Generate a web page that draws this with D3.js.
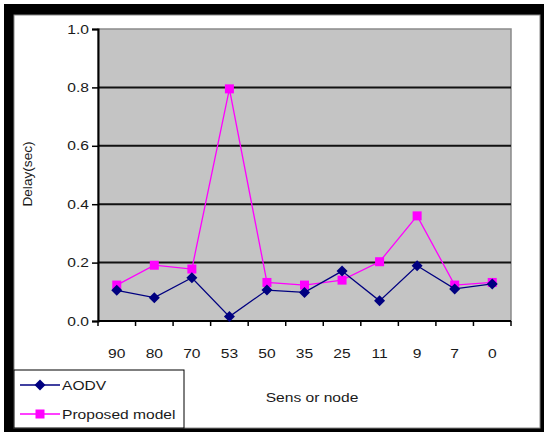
<!DOCTYPE html>
<html>
<head>
<meta charset="utf-8">
<script src="https://cdn.jsdelivr.net/npm/d3@7/dist/d3.min.js"></script>
<style>
  html, body { margin: 0; padding: 0; background: #fff; }
  svg { display: block; }
  text { font-family: "Liberation Sans", Arial, sans-serif; }
</style>
</head>
<body>
<svg id="chart" width="544" height="432"></svg>
<script>
// Sensor nodes along the route and measured delay per node
const nodes = ["90", "80", "70", "53", "50", "35", "25", "11", "9", "7", "0"];
const aodvDelay = [0.105, 0.08, 0.148, 0.015, 0.106, 0.098, 0.171, 0.069, 0.189, 0.11, 0.127];
const proposedDelay = [0.123, 0.191, 0.178, 0.795, 0.132, 0.123, 0.14, 0.203, 0.36, 0.123, 0.132];
const yTicks = [0, 0.2, 0.4, 0.6, 0.8, 1.0];
const seriesNames = ["AODV", "Proposed model"];

const svg = d3.select("#chart");
const SX = 1.2;          // horizontal stretch of the labels
const FS = 13;
const textColor = "#1a1a1a";

// Places a horizontally stretched label at (x, y)
function label(parent, x, y, str, anchor) {
  return parent.append("text")
    .attr("transform", `translate(${x},${y}) scale(${SX},1)`)
    .attr("text-anchor", anchor || "start")
    .attr("font-size", FS).attr("fill", textColor).text(str);
}

// Frame: black border with white panel
svg.append("rect").attr("x", 4).attr("y", 4).attr("width", 540).attr("height", 428).attr("fill", "#000");
svg.append("rect").attr("x", 14).attr("y", 15).attr("width", 526).attr("height", 413)
  .attr("fill", "#fff").attr("stroke", "#888").attr("stroke-width", 1);

const plot = { left: 98, right: 511, top: 29, bottom: 321 };

const x = d3.scaleBand().domain(nodes).range([plot.left, plot.right]).padding(0);
const y = d3.scaleLinear().domain([0, 1]).range([plot.bottom, plot.top]);

// Plot area background
svg.append("rect")
  .attr("x", plot.left).attr("y", plot.top)
  .attr("width", plot.right - plot.left).attr("height", plot.bottom - plot.top)
  .attr("fill", "#c4c4c4").attr("stroke", "#8a8a8a").attr("stroke-width", 1.5);

// Horizontal gridlines
svg.append("g").selectAll("line").data(yTicks.filter(t => t > 0 && t < 1)).join("line")
  .attr("x1", plot.left).attr("x2", plot.right)
  .attr("y1", d => y(d)).attr("y2", d => y(d))
  .attr("stroke", "#111").attr("stroke-width", 2);

// Y axis
const yAxis = d3.axisLeft(y).tickValues(yTicks).tickFormat(d3.format(".1f")).tickSize(6).tickPadding(4);
const gy = svg.append("g").attr("transform", `translate(${plot.left},0)`).call(yAxis);
gy.select(".domain").attr("stroke", "#000").attr("stroke-width", 2);
gy.selectAll(".tick line").attr("stroke", "#000").attr("stroke-width", 1.5);
gy.selectAll(".tick text")
  .attr("font-size", FS).attr("fill", textColor)
  .attr("font-family", "Liberation Sans, Arial, sans-serif")
  .attr("x", -9 / SX)
  .attr("transform", `scale(${SX},1)`);

// X axis with ticks at category boundaries
const gx = svg.append("g").attr("transform", `translate(0,${plot.bottom})`);
gx.append("line").attr("x1", plot.left).attr("x2", plot.right).attr("y1", 0).attr("y2", 0)
  .attr("stroke", "#000").attr("stroke-width", 2);
const bounds = nodes.map(n => x(n)).concat([x(nodes[nodes.length - 1]) + x.bandwidth()]);
gx.selectAll("line.tk").data(bounds).join("line").attr("class", "tk")
  .attr("x1", d => d).attr("x2", d => d).attr("y1", 0).attr("y2", 5)
  .attr("stroke", "#000").attr("stroke-width", 1.5);
nodes.forEach(n => label(gx, x(n) + x.bandwidth() / 2, 37, n, "middle"));

// Axis titles
label(svg, 312, 402, "Sens or node", "middle");
svg.append("text").attr("transform", `translate(32,174) rotate(-90) scale(1.05,1)`)
  .attr("text-anchor", "middle").attr("font-size", FS).attr("fill", textColor).text("Delay(sec)");

const cx = d => x(d) + x.bandwidth() / 2;
const line = d3.line().x(d => cx(d.node)).y(d => y(d.v));

const aodv = nodes.map((n, i) => ({ node: n, v: aodvDelay[i] }));
const prop = nodes.map((n, i) => ({ node: n, v: proposedDelay[i] }));

const navy = "#000080";
const magenta = "#ff00ff";
const diamondPath = "M0,-5.5L5.5,0L0,5.5L-5.5,0Z";

// Proposed model series
svg.append("path").datum(prop).attr("d", line).attr("fill", "none")
  .attr("stroke", magenta).attr("stroke-width", 1.3);
svg.append("g").selectAll("rect").data(prop).join("rect")
  .attr("x", d => cx(d.node) - 4.5).attr("y", d => y(d.v) - 4.5)
  .attr("width", 9).attr("height", 9).attr("fill", magenta);

// AODV series
svg.append("path").datum(aodv).attr("d", line).attr("fill", "none")
  .attr("stroke", navy).attr("stroke-width", 1.3);
svg.append("g").selectAll("path").data(aodv).join("path")
  .attr("transform", d => `translate(${cx(d.node)},${y(d.v)})`)
  .attr("d", diamondPath).attr("fill", navy);

// Legend
const lg = svg.append("g");
lg.append("rect").attr("x", 14).attr("y", 370).attr("width", 170).attr("height", 58)
  .attr("fill", "#fff").attr("stroke", "#000").attr("stroke-width", 1);
const colors = [navy, magenta];
seriesNames.forEach((name, i) => {
  const ly = 385 + i * 29;
  lg.append("line").attr("x1", 20).attr("x2", 60).attr("y1", ly).attr("y2", ly)
    .attr("stroke", colors[i]).attr("stroke-width", 1.3);
  if (i === 0) {
    lg.append("path").attr("transform", `translate(40,${ly})`).attr("d", diamondPath).attr("fill", navy);
  } else {
    lg.append("rect").attr("x", 35.5).attr("y", ly - 4.5).attr("width", 9).attr("height", 9).attr("fill", magenta);
  }
  label(lg, 62, ly + 5, name);
});
</script>
</body>
</html>
